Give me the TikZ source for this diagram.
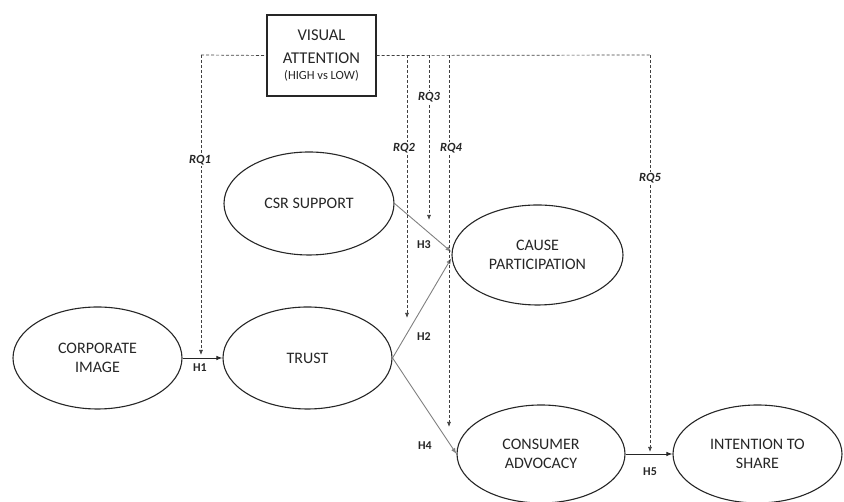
\documentclass[tikz,border=0pt]{standalone}
\usepackage{fontspec}
\setmainfont{Carlito}
\usetikzlibrary{shapes.geometric,arrows.meta,calc}
\begin{document}
\begin{tikzpicture}[x=1pt,y=1pt,
  construct/.style={draw=black!85,line width=1.1pt,ellipse,inner sep=0pt,align=center,
    font=\fontsize{16}{19}\selectfont,text=black!85},
  rqline/.style={draw=black!75,line width=0.7pt,dash pattern=on 3pt off 2pt},
  rqarrow/.style={rqline,-{Latex[length=5pt,width=4pt]}},
  rqlabel/.style={fill=white,inner sep=1.5pt,font=\fontsize{12.5}{14}\selectfont\bfseries\itshape,text=black!85},
  hlabel/.style={inner sep=1pt,font=\fontsize{12}{14}\selectfont\bfseries,text=black!85},
  darkpath/.style={draw=black!85,line width=0.9pt,-{Latex[length=6pt,width=4.5pt]}},
  graypath/.style={draw=black!50,line width=0.9pt,-{Latex[length=6pt,width=4.5pt]}},
  vabox/.style={draw=black!85,line width=1.2pt,minimum width=109pt,minimum height=81pt,inner sep=0pt,align=center,text=black!85}
]
\useasboundingbox (0,0) rectangle (844,502);

% constructs
\node[construct,minimum width=169pt,minimum height=102pt] (ci) at (97.5,144) {CORPORATE\\IMAGE};
\node[construct,minimum width=169pt,minimum height=102pt] (trust) at (307.5,144) {TRUST};
\node[construct,minimum width=170pt,minimum height=103pt] (csr) at (309,298.5) {CSR SUPPORT};
\node[construct,minimum width=171pt,minimum height=100pt] (cp) at (537.5,247) {CAUSE\\PARTICIPATION};
\node[construct,minimum width=168pt,minimum height=98pt] (ca) at (541,48) {CONSUMER\\ADVOCACY};
\node[construct,minimum width=169pt,minimum height=98pt] (its) at (757.5,48) {INTENTION TO\\SHARE};

% moderator box
\node[vabox,font=\fontsize{16.5}{22}\selectfont] (va) at (321.5,446.5) {VISUAL\\[1pt]ATTENTION\\[-6pt]{\fontsize{12.5}{22}\selectfont (HIGH vs LOW)}};

% hypotheses paths
\draw[darkpath] (ci.east) -- (trust.west);
\draw[graypath] (trust.east) -- ($(cp.west)+(0,-3)$);
\draw[graypath] (csr.east) -- ($(cp.west)+(0,3)$);
\draw[graypath] (trust.east) -- (ca.west);
\draw[darkpath] (ca.east) -- (its.west);

\node[hlabel] (h1) at (200,134) {H1};
\node[hlabel] (h2) at (424,165) {H2};
\node[hlabel] (h3) at (424,257) {H3};
\node[hlabel] (h4) at (425,56) {H4};
\node[hlabel] (h5) at (650,30) {H5};

% moderation dashed lines
\coordinate (c1) at (201,447);
\coordinate (c2) at (407,447);
\coordinate (c3) at (429,447);
\coordinate (c4) at (449,447);
\coordinate (c5) at (650,447);
\coordinate (e1) at (201,147);
\coordinate (e2) at (407,184);
\coordinate (e3) at (429,282);
\coordinate (e4) at (449,75);
\coordinate (e5) at (650,50);

\draw[rqline] (c1) -- (va.west);
\draw[rqline] (va.east) -- (c5);
\draw[rqarrow] (c1) -- (e1);
\draw[rqarrow] (c2) -- (e2);
\draw[rqarrow] (c3) -- (e3);
\draw[rqarrow] (c4) -- (e4);
\draw[rqarrow] (c5) -- (e5);

\node[rqlabel] (rq1) at (200,342) {RQ1};
\node[rqlabel] (rq2) at (404,354) {RQ2};
\node[rqlabel] (rq3) at (429,405) {RQ3};
\node[rqlabel] (rq4) at (451,354) {RQ4};
\node[rqlabel] (rq5) at (650,324) {RQ5};
\end{tikzpicture}
\end{document}
